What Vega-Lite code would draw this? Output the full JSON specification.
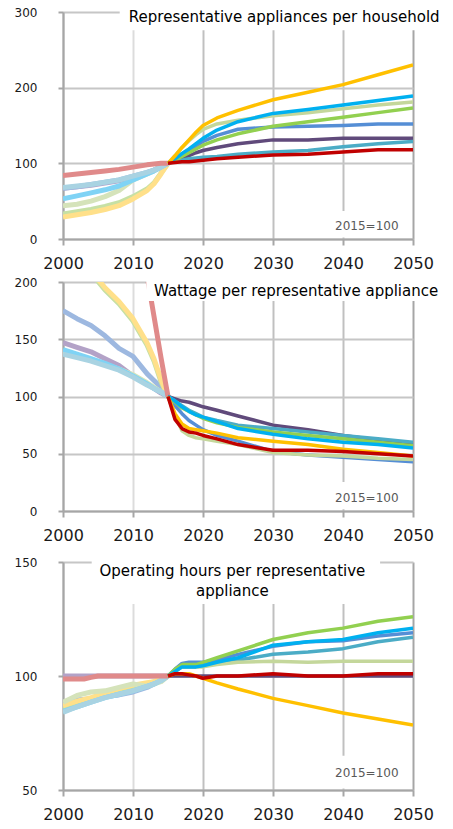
{
  "$schema": "https://vega.github.io/schema/vega-lite/v6.json",
  "autosize": {"type": "pad"},
  "padding": {"left": 14, "top": 0, "right": 0, "bottom": 0},
  "spacing": 0,
  "config": {
    "view": {"stroke": null},
    "font": "DejaVu Sans",
    "axisX": {"format": "d", "labelFontSize": 16, "labelColor": "#1a1a1a", "labelPadding": 10, "labelFlush": false, "labelOverlap": false, "tickSize": 6, "tickColor": "#A6A6A6", "tickWidth": 2, "domainColor": "#A6A6A6", "domainWidth": 2, "gridWidth": 2},
    "axisY": {"labelFontSize": 12, "labelColor": "#1a1a1a", "labelPadding": 21, "labelFlush": false, "labelOverlap": false, "tickSize": 5, "tickColor": "#A6A6A6", "tickWidth": 2, "domainColor": "#A6A6A6", "domainWidth": 2, "gridWidth": 2, "gridColor": "#C6C6C6"}
  },
  "datasets": {
    "households": [
      {"series":"purple","period":"history","year":2000,"value":67},{"series":"purple","period":"history","year":2002,"value":69},{"series":"purple","period":"history","year":2004,"value":71},{"series":"purple","period":"history","year":2006,"value":74},{"series":"purple","period":"history","year":2008,"value":77},{"series":"purple","period":"history","year":2010,"value":82},{"series":"purple","period":"history","year":2012,"value":87},{"series":"purple","period":"history","year":2013,"value":91},{"series":"purple","period":"history","year":2014,"value":95},{"series":"purple","period":"history","year":2015,"value":100},
      {"series":"cornflower","period":"history","year":2000,"value":67},{"series":"cornflower","period":"history","year":2002,"value":69},{"series":"cornflower","period":"history","year":2004,"value":72},{"series":"cornflower","period":"history","year":2006,"value":75},{"series":"cornflower","period":"history","year":2008,"value":78},{"series":"cornflower","period":"history","year":2010,"value":83},{"series":"cornflower","period":"history","year":2012,"value":88},{"series":"cornflower","period":"history","year":2013,"value":91},{"series":"cornflower","period":"history","year":2014,"value":95},{"series":"cornflower","period":"history","year":2015,"value":100},
      {"series":"green","period":"history","year":2000,"value":33},{"series":"green","period":"history","year":2002,"value":36},{"series":"green","period":"history","year":2004,"value":39},{"series":"green","period":"history","year":2006,"value":43},{"series":"green","period":"history","year":2008,"value":48},{"series":"green","period":"history","year":2010,"value":56},{"series":"green","period":"history","year":2012,"value":66},{"series":"green","period":"history","year":2013,"value":74},{"series":"green","period":"history","year":2014,"value":87},{"series":"green","period":"history","year":2015,"value":100},
      {"series":"gold","period":"history","year":2000,"value":29},{"series":"gold","period":"history","year":2002,"value":32},{"series":"gold","period":"history","year":2004,"value":35},{"series":"gold","period":"history","year":2006,"value":39},{"series":"gold","period":"history","year":2008,"value":44},{"series":"gold","period":"history","year":2010,"value":53},{"series":"gold","period":"history","year":2012,"value":64},{"series":"gold","period":"history","year":2013,"value":73},{"series":"gold","period":"history","year":2014,"value":86},{"series":"gold","period":"history","year":2015,"value":100},
      {"series":"lightgreen","period":"history","year":2000,"value":44},{"series":"lightgreen","period":"history","year":2002,"value":46},{"series":"lightgreen","period":"history","year":2004,"value":50},{"series":"lightgreen","period":"history","year":2006,"value":56},{"series":"lightgreen","period":"history","year":2008,"value":64},{"series":"lightgreen","period":"history","year":2010,"value":78},{"series":"lightgreen","period":"history","year":2012,"value":86},{"series":"lightgreen","period":"history","year":2013,"value":90},{"series":"lightgreen","period":"history","year":2014,"value":95},{"series":"lightgreen","period":"history","year":2015,"value":100},
      {"series":"skyblue","period":"history","year":2000,"value":53},{"series":"skyblue","period":"history","year":2002,"value":57},{"series":"skyblue","period":"history","year":2004,"value":61},{"series":"skyblue","period":"history","year":2006,"value":65},{"series":"skyblue","period":"history","year":2008,"value":70},{"series":"skyblue","period":"history","year":2010,"value":78},{"series":"skyblue","period":"history","year":2012,"value":86},{"series":"skyblue","period":"history","year":2013,"value":90},{"series":"skyblue","period":"history","year":2014,"value":95},{"series":"skyblue","period":"history","year":2015,"value":100},
      {"series":"teal","period":"history","year":2000,"value":68},{"series":"teal","period":"history","year":2002,"value":70},{"series":"teal","period":"history","year":2004,"value":72},{"series":"teal","period":"history","year":2006,"value":75},{"series":"teal","period":"history","year":2008,"value":78},{"series":"teal","period":"history","year":2010,"value":83},{"series":"teal","period":"history","year":2012,"value":88},{"series":"teal","period":"history","year":2013,"value":91},{"series":"teal","period":"history","year":2014,"value":95},{"series":"teal","period":"history","year":2015,"value":100},
      {"series":"red","period":"history","year":2000,"value":84},{"series":"red","period":"history","year":2002,"value":86},{"series":"red","period":"history","year":2004,"value":88},{"series":"red","period":"history","year":2006,"value":90},{"series":"red","period":"history","year":2008,"value":92},{"series":"red","period":"history","year":2010,"value":95},{"series":"red","period":"history","year":2012,"value":98},{"series":"red","period":"history","year":2013,"value":99},{"series":"red","period":"history","year":2014,"value":100},{"series":"red","period":"history","year":2015,"value":100},
      {"series":"purple","period":"projection","year":2015,"value":100},{"series":"purple","period":"projection","year":2016,"value":103},{"series":"purple","period":"projection","year":2017,"value":106},{"series":"purple","period":"projection","year":2018,"value":110},{"series":"purple","period":"projection","year":2019,"value":114},{"series":"purple","period":"projection","year":2020,"value":117},{"series":"purple","period":"projection","year":2022,"value":121},{"series":"purple","period":"projection","year":2025,"value":126},{"series":"purple","period":"projection","year":2030,"value":131},{"series":"purple","period":"projection","year":2035,"value":131},{"series":"purple","period":"projection","year":2040,"value":133},{"series":"purple","period":"projection","year":2045,"value":133},{"series":"purple","period":"projection","year":2050,"value":133},
      {"series":"teal","period":"projection","year":2015,"value":100},{"series":"teal","period":"projection","year":2016,"value":102},{"series":"teal","period":"projection","year":2017,"value":104},{"series":"teal","period":"projection","year":2018,"value":106},{"series":"teal","period":"projection","year":2019,"value":107},{"series":"teal","period":"projection","year":2020,"value":108},{"series":"teal","period":"projection","year":2022,"value":109},{"series":"teal","period":"projection","year":2025,"value":112},{"series":"teal","period":"projection","year":2030,"value":115},{"series":"teal","period":"projection","year":2035,"value":117},{"series":"teal","period":"projection","year":2040,"value":122},{"series":"teal","period":"projection","year":2045,"value":126},{"series":"teal","period":"projection","year":2050,"value":129},
      {"series":"cornflower","period":"projection","year":2015,"value":100},{"series":"cornflower","period":"projection","year":2016,"value":105},{"series":"cornflower","period":"projection","year":2017,"value":111},{"series":"cornflower","period":"projection","year":2018,"value":117},{"series":"cornflower","period":"projection","year":2019,"value":123},{"series":"cornflower","period":"projection","year":2020,"value":129},{"series":"cornflower","period":"projection","year":2022,"value":137},{"series":"cornflower","period":"projection","year":2025,"value":145},{"series":"cornflower","period":"projection","year":2030,"value":148},{"series":"cornflower","period":"projection","year":2035,"value":149},{"series":"cornflower","period":"projection","year":2040,"value":150},{"series":"cornflower","period":"projection","year":2045,"value":152},{"series":"cornflower","period":"projection","year":2050,"value":152},
      {"series":"lightgreen","period":"projection","year":2015,"value":100},{"series":"lightgreen","period":"projection","year":2016,"value":110},{"series":"lightgreen","period":"projection","year":2017,"value":121},{"series":"lightgreen","period":"projection","year":2018,"value":130},{"series":"lightgreen","period":"projection","year":2019,"value":138},{"series":"lightgreen","period":"projection","year":2020,"value":145},{"series":"lightgreen","period":"projection","year":2022,"value":152},{"series":"lightgreen","period":"projection","year":2025,"value":157},{"series":"lightgreen","period":"projection","year":2030,"value":163},{"series":"lightgreen","period":"projection","year":2035,"value":167},{"series":"lightgreen","period":"projection","year":2040,"value":172},{"series":"lightgreen","period":"projection","year":2045,"value":177},{"series":"lightgreen","period":"projection","year":2050,"value":181},
      {"series":"green","period":"projection","year":2015,"value":100},{"series":"green","period":"projection","year":2016,"value":104},{"series":"green","period":"projection","year":2017,"value":109},{"series":"green","period":"projection","year":2018,"value":114},{"series":"green","period":"projection","year":2019,"value":119},{"series":"green","period":"projection","year":2020,"value":124},{"series":"green","period":"projection","year":2022,"value":131},{"series":"green","period":"projection","year":2025,"value":139},{"series":"green","period":"projection","year":2030,"value":149},{"series":"green","period":"projection","year":2035,"value":155},{"series":"green","period":"projection","year":2040,"value":161},{"series":"green","period":"projection","year":2045,"value":167},{"series":"green","period":"projection","year":2050,"value":173},
      {"series":"skyblue","period":"projection","year":2015,"value":100},{"series":"skyblue","period":"projection","year":2016,"value":106},{"series":"skyblue","period":"projection","year":2017,"value":113},{"series":"skyblue","period":"projection","year":2018,"value":119},{"series":"skyblue","period":"projection","year":2019,"value":126},{"series":"skyblue","period":"projection","year":2020,"value":133},{"series":"skyblue","period":"projection","year":2022,"value":144},{"series":"skyblue","period":"projection","year":2025,"value":155},{"series":"skyblue","period":"projection","year":2030,"value":166},{"series":"skyblue","period":"projection","year":2035,"value":171},{"series":"skyblue","period":"projection","year":2040,"value":177},{"series":"skyblue","period":"projection","year":2045,"value":183},{"series":"skyblue","period":"projection","year":2050,"value":189},
      {"series":"gold","period":"projection","year":2015,"value":100},{"series":"gold","period":"projection","year":2016,"value":110},{"series":"gold","period":"projection","year":2017,"value":121},{"series":"gold","period":"projection","year":2018,"value":131},{"series":"gold","period":"projection","year":2019,"value":141},{"series":"gold","period":"projection","year":2020,"value":150},{"series":"gold","period":"projection","year":2022,"value":160},{"series":"gold","period":"projection","year":2025,"value":170},{"series":"gold","period":"projection","year":2030,"value":184},{"series":"gold","period":"projection","year":2035,"value":194},{"series":"gold","period":"projection","year":2040,"value":204},{"series":"gold","period":"projection","year":2045,"value":217},{"series":"gold","period":"projection","year":2050,"value":230},
      {"series":"red","period":"projection","year":2015,"value":100},{"series":"red","period":"projection","year":2016,"value":101},{"series":"red","period":"projection","year":2017,"value":102},{"series":"red","period":"projection","year":2018,"value":102},{"series":"red","period":"projection","year":2019,"value":103},{"series":"red","period":"projection","year":2020,"value":104},{"series":"red","period":"projection","year":2022,"value":106},{"series":"red","period":"projection","year":2025,"value":108},{"series":"red","period":"projection","year":2030,"value":111},{"series":"red","period":"projection","year":2035,"value":112},{"series":"red","period":"projection","year":2040,"value":115},{"series":"red","period":"projection","year":2045,"value":118},{"series":"red","period":"projection","year":2050,"value":118}
    ],
    "wattage": [
      {"series":"purple","period":"history","year":2000,"value":147},{"series":"purple","period":"history","year":2002,"value":143},{"series":"purple","period":"history","year":2004,"value":139},{"series":"purple","period":"history","year":2006,"value":133},{"series":"purple","period":"history","year":2008,"value":127},{"series":"purple","period":"history","year":2010,"value":118},{"series":"purple","period":"history","year":2012,"value":111},{"series":"purple","period":"history","year":2013,"value":107},{"series":"purple","period":"history","year":2014,"value":103},{"series":"purple","period":"history","year":2015,"value":100},
      {"series":"cornflower","period":"history","year":2000,"value":175},{"series":"cornflower","period":"history","year":2002,"value":168},{"series":"cornflower","period":"history","year":2004,"value":162},{"series":"cornflower","period":"history","year":2006,"value":153},{"series":"cornflower","period":"history","year":2008,"value":142},{"series":"cornflower","period":"history","year":2010,"value":135},{"series":"cornflower","period":"history","year":2012,"value":120},{"series":"cornflower","period":"history","year":2013,"value":114},{"series":"cornflower","period":"history","year":2014,"value":108},{"series":"cornflower","period":"history","year":2015,"value":100},
      {"series":"green","period":"history","year":2000,"value":248},{"series":"green","period":"history","year":2002,"value":228},{"series":"green","period":"history","year":2004,"value":208},{"series":"green","period":"history","year":2006,"value":193},{"series":"green","period":"history","year":2008,"value":181},{"series":"green","period":"history","year":2010,"value":166},{"series":"green","period":"history","year":2012,"value":145},{"series":"green","period":"history","year":2013,"value":131},{"series":"green","period":"history","year":2014,"value":113},{"series":"green","period":"history","year":2015,"value":100},
      {"series":"gold","period":"history","year":2000,"value":250},{"series":"gold","period":"history","year":2002,"value":230},{"series":"gold","period":"history","year":2004,"value":210},{"series":"gold","period":"history","year":2006,"value":195},{"series":"gold","period":"history","year":2008,"value":183},{"series":"gold","period":"history","year":2010,"value":168},{"series":"gold","period":"history","year":2012,"value":147},{"series":"gold","period":"history","year":2013,"value":133},{"series":"gold","period":"history","year":2014,"value":115},{"series":"gold","period":"history","year":2015,"value":100},
      {"series":"lightgreen","period":"history","year":2000,"value":139},{"series":"lightgreen","period":"history","year":2002,"value":136},{"series":"lightgreen","period":"history","year":2004,"value":132},{"series":"lightgreen","period":"history","year":2006,"value":128},{"series":"lightgreen","period":"history","year":2008,"value":124},{"series":"lightgreen","period":"history","year":2010,"value":119},{"series":"lightgreen","period":"history","year":2012,"value":112},{"series":"lightgreen","period":"history","year":2013,"value":108},{"series":"lightgreen","period":"history","year":2014,"value":104},{"series":"lightgreen","period":"history","year":2015,"value":100},
      {"series":"skyblue","period":"history","year":2000,"value":141},{"series":"skyblue","period":"history","year":2002,"value":137},{"series":"skyblue","period":"history","year":2004,"value":133},{"series":"skyblue","period":"history","year":2006,"value":129},{"series":"skyblue","period":"history","year":2008,"value":124},{"series":"skyblue","period":"history","year":2010,"value":118},{"series":"skyblue","period":"history","year":2012,"value":111},{"series":"skyblue","period":"history","year":2013,"value":107},{"series":"skyblue","period":"history","year":2014,"value":104},{"series":"skyblue","period":"history","year":2015,"value":100},
      {"series":"teal","period":"history","year":2000,"value":137},{"series":"teal","period":"history","year":2002,"value":134},{"series":"teal","period":"history","year":2004,"value":131},{"series":"teal","period":"history","year":2006,"value":127},{"series":"teal","period":"history","year":2008,"value":123},{"series":"teal","period":"history","year":2010,"value":117},{"series":"teal","period":"history","year":2012,"value":110},{"series":"teal","period":"history","year":2013,"value":107},{"series":"teal","period":"history","year":2014,"value":104},{"series":"teal","period":"history","year":2015,"value":100},
      {"series":"red","period":"history","year":2011,"value":243},{"series":"red","period":"history","year":2012,"value":206},{"series":"red","period":"history","year":2013,"value":170},{"series":"red","period":"history","year":2014,"value":134},{"series":"red","period":"history","year":2015,"value":100},
      {"series":"purple","period":"projection","year":2015,"value":100},{"series":"purple","period":"projection","year":2016,"value":98},{"series":"purple","period":"projection","year":2017,"value":96},{"series":"purple","period":"projection","year":2018,"value":95},{"series":"purple","period":"projection","year":2019,"value":93},{"series":"purple","period":"projection","year":2020,"value":91},{"series":"purple","period":"projection","year":2022,"value":88},{"series":"purple","period":"projection","year":2025,"value":83},{"series":"purple","period":"projection","year":2030,"value":75},{"series":"purple","period":"projection","year":2035,"value":71},{"series":"purple","period":"projection","year":2040,"value":66},{"series":"purple","period":"projection","year":2045,"value":62},{"series":"purple","period":"projection","year":2050,"value":59},
      {"series":"teal","period":"projection","year":2015,"value":100},{"series":"teal","period":"projection","year":2016,"value":96},{"series":"teal","period":"projection","year":2017,"value":92},{"series":"teal","period":"projection","year":2018,"value":88},{"series":"teal","period":"projection","year":2019,"value":85},{"series":"teal","period":"projection","year":2020,"value":82},{"series":"teal","period":"projection","year":2022,"value":79},{"series":"teal","period":"projection","year":2025,"value":75},{"series":"teal","period":"projection","year":2030,"value":72},{"series":"teal","period":"projection","year":2035,"value":69},{"series":"teal","period":"projection","year":2040,"value":66},{"series":"teal","period":"projection","year":2045,"value":63},{"series":"teal","period":"projection","year":2050,"value":60},
      {"series":"cornflower","period":"projection","year":2015,"value":100},{"series":"cornflower","period":"projection","year":2016,"value":92},{"series":"cornflower","period":"projection","year":2017,"value":85},{"series":"cornflower","period":"projection","year":2018,"value":79},{"series":"cornflower","period":"projection","year":2019,"value":75},{"series":"cornflower","period":"projection","year":2020,"value":71},{"series":"cornflower","period":"projection","year":2022,"value":66},{"series":"cornflower","period":"projection","year":2025,"value":61},{"series":"cornflower","period":"projection","year":2030,"value":52},{"series":"cornflower","period":"projection","year":2035,"value":49},{"series":"cornflower","period":"projection","year":2040,"value":47},{"series":"cornflower","period":"projection","year":2045,"value":45},{"series":"cornflower","period":"projection","year":2050,"value":43},
      {"series":"lightgreen","period":"projection","year":2015,"value":100},{"series":"lightgreen","period":"projection","year":2016,"value":83},{"series":"lightgreen","period":"projection","year":2017,"value":70},{"series":"lightgreen","period":"projection","year":2018,"value":66},{"series":"lightgreen","period":"projection","year":2019,"value":64},{"series":"lightgreen","period":"projection","year":2020,"value":63},{"series":"lightgreen","period":"projection","year":2022,"value":61},{"series":"lightgreen","period":"projection","year":2025,"value":58},{"series":"lightgreen","period":"projection","year":2030,"value":51},{"series":"lightgreen","period":"projection","year":2035,"value":49},{"series":"lightgreen","period":"projection","year":2040,"value":48},{"series":"lightgreen","period":"projection","year":2045,"value":46},{"series":"lightgreen","period":"projection","year":2050,"value":45},
      {"series":"green","period":"projection","year":2015,"value":100},{"series":"green","period":"projection","year":2016,"value":95},{"series":"green","period":"projection","year":2017,"value":90},{"series":"green","period":"projection","year":2018,"value":87},{"series":"green","period":"projection","year":2019,"value":84},{"series":"green","period":"projection","year":2020,"value":81},{"series":"green","period":"projection","year":2022,"value":77},{"series":"green","period":"projection","year":2025,"value":73},{"series":"green","period":"projection","year":2030,"value":69},{"series":"green","period":"projection","year":2035,"value":66},{"series":"green","period":"projection","year":2040,"value":63},{"series":"green","period":"projection","year":2045,"value":60},{"series":"green","period":"projection","year":2050,"value":57},
      {"series":"skyblue","period":"projection","year":2015,"value":100},{"series":"skyblue","period":"projection","year":2016,"value":96},{"series":"skyblue","period":"projection","year":2017,"value":91},{"series":"skyblue","period":"projection","year":2018,"value":87},{"series":"skyblue","period":"projection","year":2019,"value":84},{"series":"skyblue","period":"projection","year":2020,"value":82},{"series":"skyblue","period":"projection","year":2022,"value":78},{"series":"skyblue","period":"projection","year":2025,"value":72},{"series":"skyblue","period":"projection","year":2030,"value":67},{"series":"skyblue","period":"projection","year":2035,"value":63},{"series":"skyblue","period":"projection","year":2040,"value":60},{"series":"skyblue","period":"projection","year":2045,"value":58},{"series":"skyblue","period":"projection","year":2050,"value":55},
      {"series":"gold","period":"projection","year":2015,"value":100},{"series":"gold","period":"projection","year":2016,"value":85},{"series":"gold","period":"projection","year":2017,"value":76},{"series":"gold","period":"projection","year":2018,"value":72},{"series":"gold","period":"projection","year":2019,"value":71},{"series":"gold","period":"projection","year":2020,"value":70},{"series":"gold","period":"projection","year":2022,"value":68},{"series":"gold","period":"projection","year":2025,"value":64},{"series":"gold","period":"projection","year":2030,"value":61},{"series":"gold","period":"projection","year":2035,"value":58},{"series":"gold","period":"projection","year":2040,"value":54},{"series":"gold","period":"projection","year":2045,"value":51},{"series":"gold","period":"projection","year":2050,"value":48},
      {"series":"red","period":"projection","year":2015,"value":100},{"series":"red","period":"projection","year":2016,"value":80},{"series":"red","period":"projection","year":2017,"value":72},{"series":"red","period":"projection","year":2018,"value":69},{"series":"red","period":"projection","year":2019,"value":68},{"series":"red","period":"projection","year":2020,"value":66},{"series":"red","period":"projection","year":2022,"value":63},{"series":"red","period":"projection","year":2025,"value":58},{"series":"red","period":"projection","year":2030,"value":53},{"series":"red","period":"projection","year":2035,"value":53},{"series":"red","period":"projection","year":2040,"value":52},{"series":"red","period":"projection","year":2045,"value":50},{"series":"red","period":"projection","year":2050,"value":48}
    ],
    "hours": [
      {"series":"purple","period":"history","year":2000,"value":100},{"series":"purple","period":"history","year":2004,"value":100},{"series":"purple","period":"history","year":2008,"value":100},{"series":"purple","period":"history","year":2012,"value":100},{"series":"purple","period":"history","year":2015,"value":100},
      {"series":"cornflower","period":"history","year":2000,"value":88.5},{"series":"cornflower","period":"history","year":2002,"value":89.5},{"series":"cornflower","period":"history","year":2004,"value":90},{"series":"cornflower","period":"history","year":2006,"value":91},{"series":"cornflower","period":"history","year":2008,"value":91.7},{"series":"cornflower","period":"history","year":2010,"value":93},{"series":"cornflower","period":"history","year":2012,"value":95},{"series":"cornflower","period":"history","year":2013,"value":96.5},{"series":"cornflower","period":"history","year":2014,"value":98},{"series":"cornflower","period":"history","year":2015,"value":100},
      {"series":"green","period":"history","year":2000,"value":86},{"series":"green","period":"history","year":2002,"value":88.5},{"series":"green","period":"history","year":2004,"value":90},{"series":"green","period":"history","year":2006,"value":92},{"series":"green","period":"history","year":2008,"value":94},{"series":"green","period":"history","year":2010,"value":95.5},{"series":"green","period":"history","year":2012,"value":96.5},{"series":"green","period":"history","year":2013,"value":97.5},{"series":"green","period":"history","year":2014,"value":98.5},{"series":"green","period":"history","year":2015,"value":100},
      {"series":"gold","period":"history","year":2000,"value":87},{"series":"gold","period":"history","year":2002,"value":89},{"series":"gold","period":"history","year":2004,"value":90.5},{"series":"gold","period":"history","year":2006,"value":92.5},{"series":"gold","period":"history","year":2008,"value":94.5},{"series":"gold","period":"history","year":2010,"value":96},{"series":"gold","period":"history","year":2012,"value":97},{"series":"gold","period":"history","year":2013,"value":97.5},{"series":"gold","period":"history","year":2014,"value":98.5},{"series":"gold","period":"history","year":2015,"value":100},
      {"series":"lightgreen","period":"history","year":2000,"value":88.5},{"series":"lightgreen","period":"history","year":2002,"value":91.5},{"series":"lightgreen","period":"history","year":2004,"value":93},{"series":"lightgreen","period":"history","year":2006,"value":93.5},{"series":"lightgreen","period":"history","year":2008,"value":95},{"series":"lightgreen","period":"history","year":2010,"value":96.5},{"series":"lightgreen","period":"history","year":2012,"value":95.5},{"series":"lightgreen","period":"history","year":2013,"value":96.5},{"series":"lightgreen","period":"history","year":2014,"value":97.5},{"series":"lightgreen","period":"history","year":2015,"value":100},
      {"series":"skyblue","period":"history","year":2000,"value":84.5},{"series":"skyblue","period":"history","year":2002,"value":86.5},{"series":"skyblue","period":"history","year":2004,"value":88.5},{"series":"skyblue","period":"history","year":2006,"value":90.5},{"series":"skyblue","period":"history","year":2008,"value":92},{"series":"skyblue","period":"history","year":2010,"value":93.5},{"series":"skyblue","period":"history","year":2012,"value":95.5},{"series":"skyblue","period":"history","year":2013,"value":96.5},{"series":"skyblue","period":"history","year":2014,"value":98},{"series":"skyblue","period":"history","year":2015,"value":100},
      {"series":"teal","period":"history","year":2000,"value":84},{"series":"teal","period":"history","year":2002,"value":86.5},{"series":"teal","period":"history","year":2004,"value":88.5},{"series":"teal","period":"history","year":2006,"value":90.5},{"series":"teal","period":"history","year":2008,"value":92},{"series":"teal","period":"history","year":2010,"value":93.5},{"series":"teal","period":"history","year":2012,"value":95.5},{"series":"teal","period":"history","year":2013,"value":96.5},{"series":"teal","period":"history","year":2014,"value":98},{"series":"teal","period":"history","year":2015,"value":100},
      {"series":"red","period":"history","year":2000,"value":98.7},{"series":"red","period":"history","year":2003,"value":98.7},{"series":"red","period":"history","year":2004,"value":99.4},{"series":"red","period":"history","year":2005,"value":100},{"series":"red","period":"history","year":2010,"value":100},{"series":"red","period":"history","year":2015,"value":100},
      {"series":"purple","period":"projection","year":2015,"value":100},{"series":"purple","period":"projection","year":2020,"value":100},{"series":"purple","period":"projection","year":2030,"value":100},{"series":"purple","period":"projection","year":2040,"value":100},{"series":"purple","period":"projection","year":2050,"value":100},
      {"series":"teal","period":"projection","year":2015,"value":100},{"series":"teal","period":"projection","year":2016,"value":102},{"series":"teal","period":"projection","year":2017,"value":104},{"series":"teal","period":"projection","year":2018,"value":104},{"series":"teal","period":"projection","year":2019,"value":104},{"series":"teal","period":"projection","year":2020,"value":104.5},{"series":"teal","period":"projection","year":2022,"value":105.5},{"series":"teal","period":"projection","year":2025,"value":107},{"series":"teal","period":"projection","year":2030,"value":109.5},{"series":"teal","period":"projection","year":2035,"value":110.5},{"series":"teal","period":"projection","year":2040,"value":112},{"series":"teal","period":"projection","year":2045,"value":115},{"series":"teal","period":"projection","year":2050,"value":117},
      {"series":"cornflower","period":"projection","year":2015,"value":100},{"series":"cornflower","period":"projection","year":2016,"value":103},{"series":"cornflower","period":"projection","year":2017,"value":105.5},{"series":"cornflower","period":"projection","year":2018,"value":106},{"series":"cornflower","period":"projection","year":2019,"value":106},{"series":"cornflower","period":"projection","year":2020,"value":106},{"series":"cornflower","period":"projection","year":2022,"value":107},{"series":"cornflower","period":"projection","year":2025,"value":109.5},{"series":"cornflower","period":"projection","year":2030,"value":113},{"series":"cornflower","period":"projection","year":2035,"value":115},{"series":"cornflower","period":"projection","year":2040,"value":115.5},{"series":"cornflower","period":"projection","year":2045,"value":117.5},{"series":"cornflower","period":"projection","year":2050,"value":119},
      {"series":"lightgreen","period":"projection","year":2015,"value":100},{"series":"lightgreen","period":"projection","year":2016,"value":102},{"series":"lightgreen","period":"projection","year":2017,"value":104},{"series":"lightgreen","period":"projection","year":2018,"value":104},{"series":"lightgreen","period":"projection","year":2019,"value":104},{"series":"lightgreen","period":"projection","year":2020,"value":104},{"series":"lightgreen","period":"projection","year":2022,"value":105},{"series":"lightgreen","period":"projection","year":2025,"value":106},{"series":"lightgreen","period":"projection","year":2030,"value":106.5},{"series":"lightgreen","period":"projection","year":2035,"value":106},{"series":"lightgreen","period":"projection","year":2040,"value":106.5},{"series":"lightgreen","period":"projection","year":2045,"value":106.5},{"series":"lightgreen","period":"projection","year":2050,"value":106.5},
      {"series":"green","period":"projection","year":2015,"value":100},{"series":"green","period":"projection","year":2016,"value":103},{"series":"green","period":"projection","year":2017,"value":105},{"series":"green","period":"projection","year":2018,"value":105},{"series":"green","period":"projection","year":2019,"value":105},{"series":"green","period":"projection","year":2020,"value":106},{"series":"green","period":"projection","year":2022,"value":108},{"series":"green","period":"projection","year":2025,"value":111},{"series":"green","period":"projection","year":2030,"value":116},{"series":"green","period":"projection","year":2035,"value":119},{"series":"green","period":"projection","year":2040,"value":121},{"series":"green","period":"projection","year":2045,"value":124},{"series":"green","period":"projection","year":2050,"value":126},
      {"series":"skyblue","period":"projection","year":2015,"value":100},{"series":"skyblue","period":"projection","year":2016,"value":102},{"series":"skyblue","period":"projection","year":2017,"value":104},{"series":"skyblue","period":"projection","year":2018,"value":104},{"series":"skyblue","period":"projection","year":2019,"value":104},{"series":"skyblue","period":"projection","year":2020,"value":104.5},{"series":"skyblue","period":"projection","year":2022,"value":106},{"series":"skyblue","period":"projection","year":2025,"value":108},{"series":"skyblue","period":"projection","year":2030,"value":113.5},{"series":"skyblue","period":"projection","year":2035,"value":115},{"series":"skyblue","period":"projection","year":2040,"value":116},{"series":"skyblue","period":"projection","year":2045,"value":119},{"series":"skyblue","period":"projection","year":2050,"value":121},
      {"series":"gold","period":"projection","year":2015,"value":100},{"series":"gold","period":"projection","year":2016,"value":101},{"series":"gold","period":"projection","year":2017,"value":101},{"series":"gold","period":"projection","year":2018,"value":101},{"series":"gold","period":"projection","year":2019,"value":100},{"series":"gold","period":"projection","year":2020,"value":99},{"series":"gold","period":"projection","year":2022,"value":97},{"series":"gold","period":"projection","year":2025,"value":94.3},{"series":"gold","period":"projection","year":2030,"value":90.2},{"series":"gold","period":"projection","year":2035,"value":87},{"series":"gold","period":"projection","year":2040,"value":83.8},{"series":"gold","period":"projection","year":2045,"value":81.1},{"series":"gold","period":"projection","year":2050,"value":78.5},
      {"series":"red","period":"projection","year":2015,"value":100},{"series":"red","period":"projection","year":2016,"value":101},{"series":"red","period":"projection","year":2017,"value":101},{"series":"red","period":"projection","year":2018,"value":100.5},{"series":"red","period":"projection","year":2019,"value":100},{"series":"red","period":"projection","year":2020,"value":99},{"series":"red","period":"projection","year":2022,"value":100},{"series":"red","period":"projection","year":2025,"value":100},{"series":"red","period":"projection","year":2030,"value":101},{"series":"red","period":"projection","year":2035,"value":100},{"series":"red","period":"projection","year":2040,"value":100},{"series":"red","period":"projection","year":2045,"value":101},{"series":"red","period":"projection","year":2050,"value":101}
    ]
  },
  "vconcat": [
    {
      "width": 350, "height": 227,
      "data": {"name": "households"},
      "resolve": {"scale": {"color": "independent"}},
      "layer": [
        {
          "transform": [{"filter": "datum.period == 'history'"}],
          "mark": {"type": "line", "strokeWidth": 5, "clip": true, "strokeJoin": "round"},
          "encoding": {
            "x": {"field": "year", "type": "quantitative", "title": null, "scale": {"domain": [2000, 2050], "nice": false}, "axis": {"values": [2000, 2010, 2020, 2030, 2040, 2050], "gridColor": {"condition": [{"test": "datum.value == 2010", "value": "#DCDCDC"}, {"test": "datum.value == 2050", "value": "#A6A6A6"}], "value": "#C0C0C0"}}},
            "y": {"field": "value", "type": "quantitative", "title": null, "scale": {"domain": [0, 300], "nice": false}, "axis": {"values": [0, 100, 200, 300]}},
            "color": {"field": "series", "type": "nominal", "legend": null, "scale": {"domain": ["purple", "cornflower", "green", "gold", "lightgreen", "skyblue", "teal", "red"], "range": ["#B3A2C7", "#9DB8E0", "#C6E0A4", "#FFE08A", "#D5E3BA", "#7FD3F5", "#A9D3E2", "#E08A8A"]}}
          }
        },
        {
          "transform": [{"filter": "datum.period == 'projection'"}],
          "mark": {"type": "line", "strokeWidth": 3.5, "clip": true, "strokeJoin": "round"},
          "encoding": {
            "x": {"field": "year", "type": "quantitative", "title": null},
            "y": {"field": "value", "type": "quantitative", "title": null},
            "color": {"field": "series", "type": "nominal", "legend": null, "scale": {"domain": ["purple", "teal", "cornflower", "lightgreen", "green", "skyblue", "gold", "red"], "range": ["#604A7B", "#4BACC6", "#558ED5", "#C4D79B", "#92D050", "#00B0F0", "#FFC000", "#C00000"]}}
          }
        },
        {
          "data": {"values": [{}]},
          "mark": {"type": "rect", "fill": "white"},
          "encoding": {"x": {"datum": 2008.1, "title": null}, "x2": {"datum": 2050.6}, "y": {"datum": 276, "title": null}, "y2": {"datum": 315.8}}
        },
        {
          "data": {"values": [{}]},
          "mark": {"type": "text", "fontSize": 15, "color": "#000000", "align": "center", "baseline": "alphabetic"},
          "encoding": {"x": {"datum": 2031.6, "title": null}, "y": {"datum": 287, "title": null}, "text": {"value": "Representative appliances per household"}}
        },
        {
          "data": {"values": [{}]},
          "mark": {"type": "rect", "fill": "white"},
          "encoding": {"x": {"datum": 2037, "title": null}, "x2": {"datum": 2049.4}, "y": {"datum": 2, "title": null}, "y2": {"datum": 37}}
        },
        {
          "data": {"values": [{}]},
          "mark": {"type": "text", "fontSize": 12, "color": "#595959", "align": "center", "baseline": "middle"},
          "encoding": {"x": {"datum": 2043.4, "title": null}, "y": {"datum": 17.6, "title": null}, "text": {"value": "2015=100"}}
        }
      ]
    },
    {
      "width": 350, "height": 229,
      "data": {"name": "wattage"},
      "resolve": {"scale": {"color": "independent"}},
      "layer": [
        {
          "transform": [{"filter": "datum.period == 'history'"}],
          "mark": {"type": "line", "strokeWidth": 5, "clip": true, "strokeJoin": "round"},
          "encoding": {
            "x": {"field": "year", "type": "quantitative", "title": null, "scale": {"domain": [2000, 2050], "nice": false}, "axis": {"values": [2000, 2010, 2020, 2030, 2040, 2050], "gridColor": {"condition": [{"test": "datum.value == 2010", "value": "#DCDCDC"}, {"test": "datum.value == 2050", "value": "#A6A6A6"}], "value": "#C0C0C0"}}},
            "y": {"field": "value", "type": "quantitative", "title": null, "scale": {"domain": [0, 200], "nice": false}, "axis": {"values": [0, 50, 100, 150, 200]}},
            "color": {"field": "series", "type": "nominal", "legend": null, "scale": {"domain": ["purple", "cornflower", "green", "gold", "lightgreen", "skyblue", "teal", "red"], "range": ["#B3A2C7", "#9DB8E0", "#C6E0A4", "#FFE08A", "#D5E3BA", "#7FD3F5", "#A9D3E2", "#E08A8A"]}}
          }
        },
        {
          "transform": [{"filter": "datum.period == 'projection'"}],
          "mark": {"type": "line", "strokeWidth": 3.5, "clip": true, "strokeJoin": "round"},
          "encoding": {
            "x": {"field": "year", "type": "quantitative", "title": null},
            "y": {"field": "value", "type": "quantitative", "title": null},
            "color": {"field": "series", "type": "nominal", "legend": null, "scale": {"domain": ["purple", "teal", "cornflower", "lightgreen", "green", "skyblue", "gold", "red"], "range": ["#604A7B", "#4BACC6", "#558ED5", "#C4D79B", "#92D050", "#00B0F0", "#FFC000", "#C00000"]}}
          }
        },
        {
          "data": {"values": [{}]},
          "mark": {"type": "rect", "fill": "white"},
          "encoding": {"x": {"datum": 2011.9, "title": null}, "x2": {"datum": 2050.6}, "y": {"datum": 183.4, "title": null}, "y2": {"datum": 209.6}}
        },
        {
          "data": {"values": [{}]},
          "mark": {"type": "text", "fontSize": 15, "color": "#000000", "align": "center", "baseline": "alphabetic"},
          "encoding": {"x": {"datum": 2033.3, "title": null}, "y": {"datum": 187.5, "title": null}, "text": {"value": "Wattage per representative appliance"}}
        },
        {
          "data": {"values": [{}]},
          "mark": {"type": "rect", "fill": "white"},
          "encoding": {"x": {"datum": 2037, "title": null}, "x2": {"datum": 2049.4}, "y": {"datum": 1.5, "title": null}, "y2": {"datum": 25.3}}
        },
        {
          "data": {"values": [{}]},
          "mark": {"type": "text", "fontSize": 12, "color": "#595959", "align": "center", "baseline": "middle"},
          "encoding": {"x": {"datum": 2043.4, "title": null}, "y": {"datum": 11.4, "title": null}, "text": {"value": "2015=100"}}
        }
      ]
    },
    {
      "width": 350, "height": 228,
      "data": {"name": "hours"},
      "resolve": {"scale": {"color": "independent"}},
      "layer": [
        {
          "transform": [{"filter": "datum.period == 'history'"}],
          "mark": {"type": "line", "strokeWidth": 5, "clip": true, "strokeJoin": "round"},
          "encoding": {
            "x": {"field": "year", "type": "quantitative", "title": null, "scale": {"domain": [2000, 2050], "nice": false}, "axis": {"values": [2000, 2010, 2020, 2030, 2040, 2050], "gridColor": {"condition": [{"test": "datum.value == 2010", "value": "#DCDCDC"}, {"test": "datum.value == 2050", "value": "#A6A6A6"}], "value": "#C0C0C0"}}},
            "y": {"field": "value", "type": "quantitative", "title": null, "scale": {"domain": [50, 150], "nice": false, "zero": false}, "axis": {"values": [50, 100, 150]}},
            "color": {"field": "series", "type": "nominal", "legend": null, "scale": {"domain": ["purple", "cornflower", "green", "gold", "lightgreen", "skyblue", "teal", "red"], "range": ["#B3A2C7", "#9DB8E0", "#C6E0A4", "#FFE08A", "#D5E3BA", "#7FD3F5", "#A9D3E2", "#E08A8A"]}}
          }
        },
        {
          "transform": [{"filter": "datum.period == 'projection'"}],
          "mark": {"type": "line", "strokeWidth": 3.5, "clip": true, "strokeJoin": "round"},
          "encoding": {
            "x": {"field": "year", "type": "quantitative", "title": null},
            "y": {"field": "value", "type": "quantitative", "title": null},
            "color": {"field": "series", "type": "nominal", "legend": null, "scale": {"domain": ["purple", "teal", "cornflower", "lightgreen", "green", "skyblue", "gold", "red"], "range": ["#604A7B", "#4BACC6", "#558ED5", "#C4D79B", "#92D050", "#00B0F0", "#FFC000", "#C00000"]}}
          }
        },
        {
          "data": {"values": [{}]},
          "mark": {"type": "rect", "fill": "white"},
          "encoding": {"x": {"datum": 2004.1, "title": null}, "x2": {"datum": 2045.3}, "y": {"datum": 131.6, "title": null}, "y2": {"datum": 158.0}}
        },
        {
          "data": {"values": [{}]},
          "mark": {"type": "text", "fontSize": 15, "color": "#000000", "align": "center", "baseline": "alphabetic", "lineHeight": 20},
          "encoding": {"x": {"datum": 2024.2, "title": null}, "y": {"datum": 143.9, "title": null}, "text": {"value": ["Operating hours per representative", "appliance"]}}
        },
        {
          "data": {"values": [{}]},
          "mark": {"type": "rect", "fill": "white"},
          "encoding": {"x": {"datum": 2037, "title": null}, "x2": {"datum": 2049.4}, "y": {"datum": 50.7, "title": null}, "y2": {"datum": 65}}
        },
        {
          "data": {"values": [{}]},
          "mark": {"type": "text", "fontSize": 12, "color": "#595959", "align": "center", "baseline": "middle"},
          "encoding": {"x": {"datum": 2043.4, "title": null}, "y": {"datum": 57.5, "title": null}, "text": {"value": "2015=100"}}
        }
      ]
    }
  ]
}
